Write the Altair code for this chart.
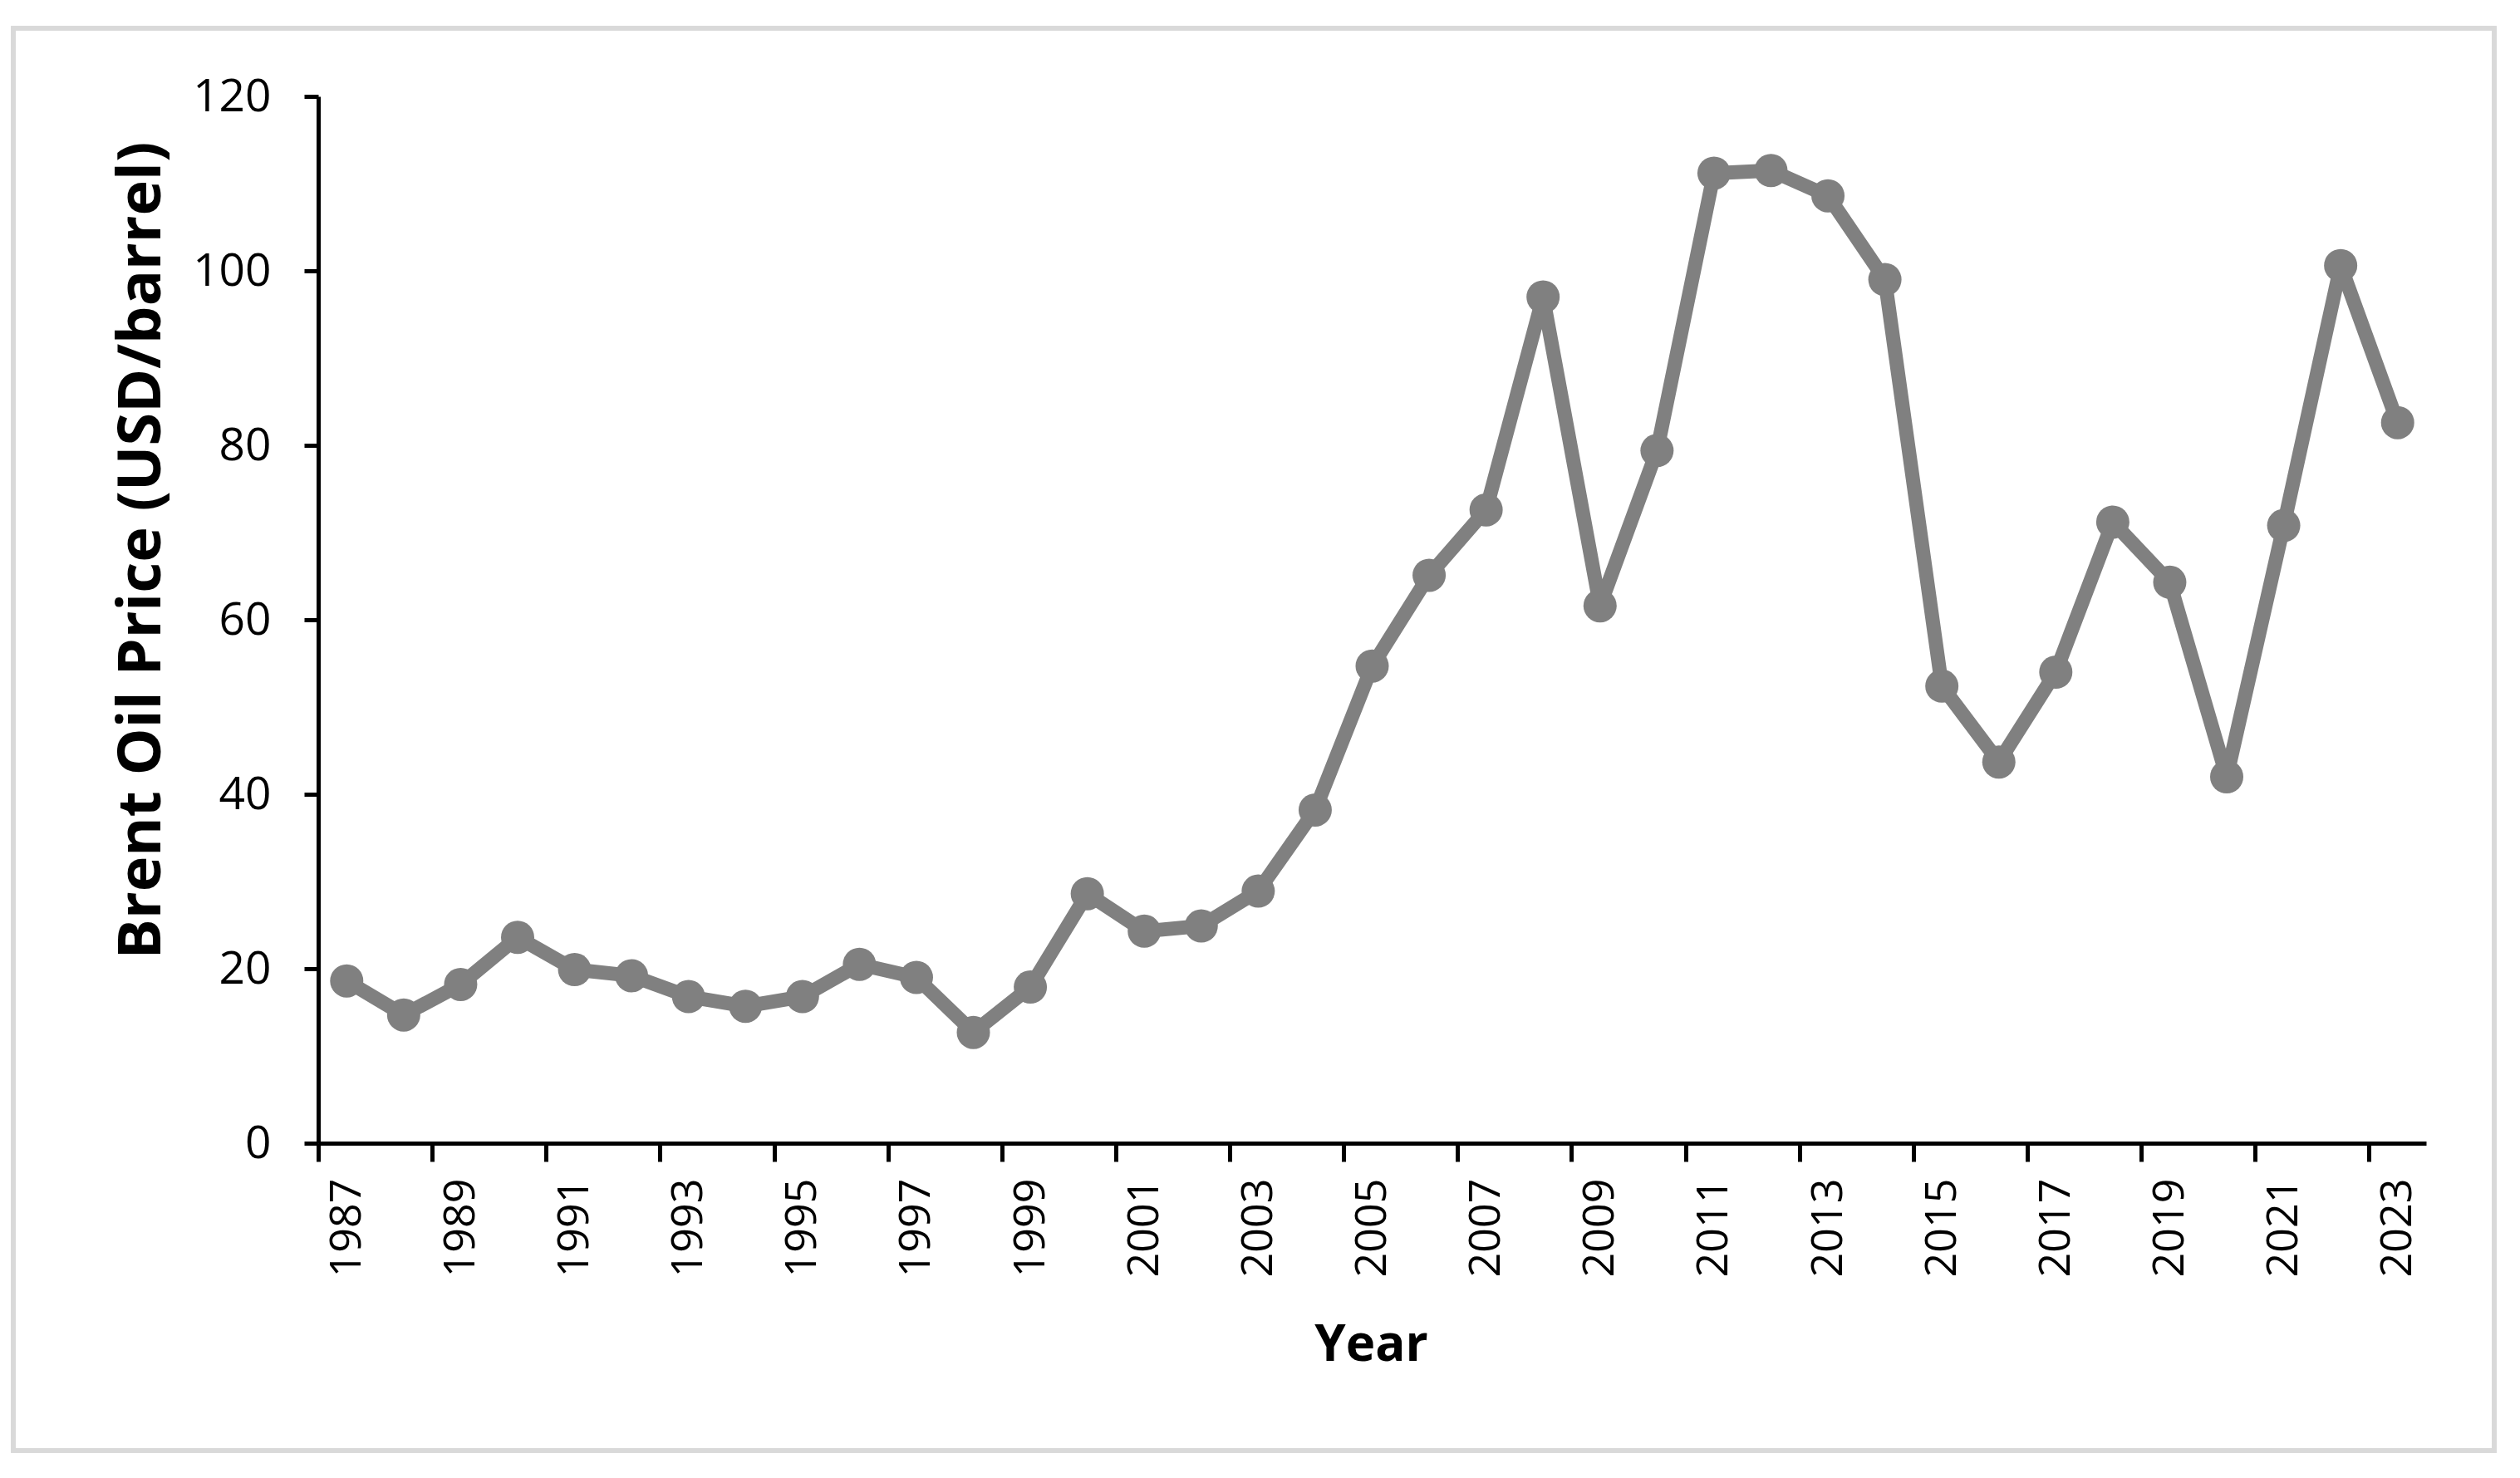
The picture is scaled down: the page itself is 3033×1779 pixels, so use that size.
import altair as alt
import pandas as pd

years = [str(y) for y in range(1987, 2024)]
prices = [18.6, 14.7, 18.2, 23.6, 19.9, 19.2, 16.8, 15.7, 16.8, 20.5,
          19.0, 12.7, 17.9, 28.6, 24.3, 24.9, 28.9, 38.2, 54.7, 65.1,
          72.6, 97.0, 61.6, 79.4, 111.2, 111.5, 108.6, 99.0, 52.4, 43.7,
          54.0, 71.2, 64.3, 42.0, 70.8, 100.6, 82.6]
label_years = [str(y) for y in range(1987, 2024, 2)]
y_ticks = [0, 20, 40, 60, 80, 100, 120]

df = pd.DataFrame({"Year": years, "Price": prices})

W, H = 2537, 1260
GRAY = "#808080"
HALF_BAND = W / len(years) / 2

x_enc = alt.X(
    "Year:O",
    sort=years,
    scale=alt.Scale(paddingInner=0, paddingOuter=0),
    axis=alt.Axis(
        title="Year",
        values=label_years,
        tickOffset=-HALF_BAND,
        labelOffset=HALF_BAND,
        labelAngle=-90,
        labelAlign="right",
        labelBaseline="middle",
        labelFont="Open Sans",
        labelFontSize=52,
        labelColor="black",
        labelPadding=20,
        tickSize=22,
        tickWidth=5,
        tickColor="black",
        domainWidth=5,
        domainColor="black",
        grid=False,
        titleFont="Open Sans",
        titleFontSize=60,
        titleFontWeight="bold",
        titleColor="black",
        titleX=1267,
        titleY=243,
        titleAlign="center",
        titleBaseline="middle",
    ),
)

y_enc = alt.Y(
    "Price:Q",
    scale=alt.Scale(domain=[0, 120], nice=False),
    axis=alt.Axis(
        title="Brent Oil Price (USD/barrel)",
        values=y_ticks,
        labelFont="Open Sans",
        labelFontSize=55,
        labelColor="black",
        labelPadding=40,
        tickSize=17,
        tickWidth=5,
        tickColor="black",
        domainWidth=5,
        domainColor="black",
        grid=False,
        titleFont="Open Sans",
        titleFontSize=72,
        titleFontWeight="bold",
        titleColor="black",
        titleAngle=-90,
        titleX=-213,
        titleY=546,
        titleAlign="center",
        titleBaseline="middle",
    ),
)

line = alt.Chart(df).mark_line(color=GRAY, strokeWidth=17, strokeJoin="round").encode(x=x_enc, y=y_enc)
points = alt.Chart(df).mark_point(filled=True, color=GRAY, size=1600, opacity=1).encode(x=x_enc, y=y_enc)

frame = alt.Chart(df).mark_rect(fill=None, stroke="#d9d9d9", strokeWidth=5, clip=False).encode(
    x=alt.value(-367), x2=alt.value(2619), y=alt.value(-82), y2=alt.value(1630)
)

chart = alt.layer(frame, line, points).properties(
    width=W,
    height=H,
    autosize=alt.AutoSizeParams(type="none"),
    padding={"left": 375, "top": 108, "right": 100, "bottom": 380},
    background="white",
).configure_view(stroke=None)

chart.save("out.html", embed_options={"renderer": "svg", "actions": False})
